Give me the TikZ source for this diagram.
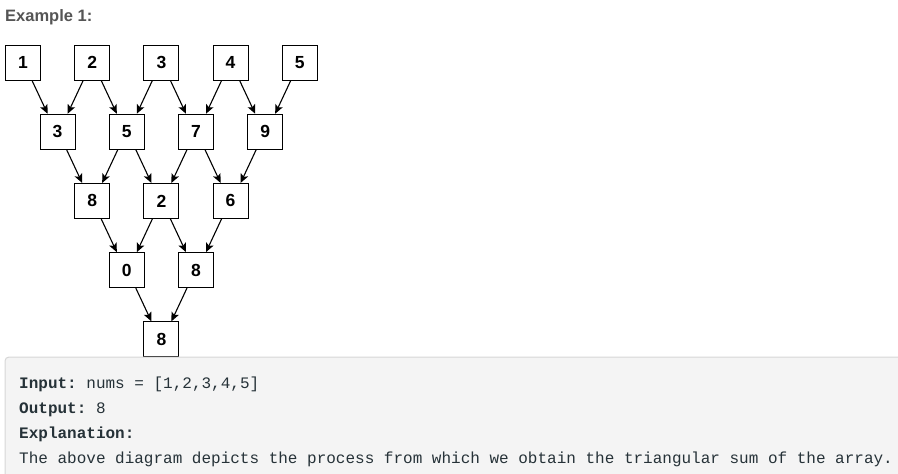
\documentclass[tikz,border=0pt]{standalone}
\usepackage{fontspec}
\setmainfont{Liberation Sans}
\setmonofont{Liberation Mono}
\usetikzlibrary{arrows.meta}
\definecolor{titlegray}{RGB}{85,85,85}
\definecolor{panelbg}{RGB}{244,244,244}
\definecolor{panelline}{RGB}{214,214,214}
\definecolor{codetext}{RGB}{38,50,56}
\tikzset{
  cell/.style={draw,line width=0.9pt,minimum size=35pt,inner sep=0pt,fill=white,
    font=\fontsize{17.5}{19}\selectfont\bfseries},
  sumarrow/.style={-{Stealth[length=9pt,width=8pt,inset=2pt]},line width=1.1pt},
  codeline/.style={anchor=base west,inner sep=0pt,text=codetext,
    font=\fontsize{16}{18}\selectfont\ttfamily}
}
\begin{document}
\begin{tikzpicture}[x=1pt,y=-1pt]
	\useasboundingbox (0,0) rectangle (898,474);
	%title
	\node[anchor=base west,inner sep=0pt,text=titlegray,
	  font=\fontsize{16.5}{18}\selectfont\bfseries] (title) at (5,21) {Example 1:};
	
	%row 1
	\node[cell] (a1) at (23,62.5) {1};
	\node[cell] (a2) at (92.2,62.5) {2};
	\node[cell] (a3) at (161.4,62.5) {3};
	\node[cell] (a4) at (230.6,62.5) {4};
	\node[cell] (a5) at (299.8,62.5) {5};
	%row 2
	\node[cell] (b1) at (57.6,131.7) {3};
	\node[cell] (b2) at (126.8,131.7) {5};
	\node[cell] (b3) at (196,131.7) {7};
	\node[cell] (b4) at (265.2,131.7) {9};
	%row 3
	\node[cell] (c1) at (92.2,200.9) {8};
	\node[cell] (c2) at (161.4,200.9) {2};
	\node[cell] (c3) at (230.6,200.9) {6};
	%row 4
	\node[cell] (d1) at (126.8,270.1) {0};
	\node[cell] (d2) at (196,270.1) {8};
	%row 5
	\node[cell] (e1) at (161.4,339.3) {8};
	
	%arrows row 1 -> row 2
	\draw[sumarrow] ([xshift=9pt]a1.south) -- ([xshift=-10pt]b1.north);
	\draw[sumarrow] ([xshift=-9pt]a2.south) -- ([xshift=10pt]b1.north);
	\draw[sumarrow] ([xshift=9pt]a2.south) -- ([xshift=-10pt]b2.north);
	\draw[sumarrow] ([xshift=-9pt]a3.south) -- ([xshift=10pt]b2.north);
	\draw[sumarrow] ([xshift=9pt]a3.south) -- ([xshift=-10pt]b3.north);
	\draw[sumarrow] ([xshift=-9pt]a4.south) -- ([xshift=10pt]b3.north);
	\draw[sumarrow] ([xshift=9pt]a4.south) -- ([xshift=-10pt]b4.north);
	\draw[sumarrow] ([xshift=-9pt]a5.south) -- ([xshift=10pt]b4.north);
	%arrows row 2 -> row 3
	\draw[sumarrow] ([xshift=9pt]b1.south) -- ([xshift=-10pt]c1.north);
	\draw[sumarrow] ([xshift=-9pt]b2.south) -- ([xshift=10pt]c1.north);
	\draw[sumarrow] ([xshift=9pt]b2.south) -- ([xshift=-10pt]c2.north);
	\draw[sumarrow] ([xshift=-9pt]b3.south) -- ([xshift=10pt]c2.north);
	\draw[sumarrow] ([xshift=9pt]b3.south) -- ([xshift=-10pt]c3.north);
	\draw[sumarrow] ([xshift=-9pt]b4.south) -- ([xshift=10pt]c3.north);
	%arrows row 3 -> row 4
	\draw[sumarrow] ([xshift=9pt]c1.south) -- ([xshift=-10pt]d1.north);
	\draw[sumarrow] ([xshift=-9pt]c2.south) -- ([xshift=10pt]d1.north);
	\draw[sumarrow] ([xshift=9pt]c2.south) -- ([xshift=-10pt]d2.north);
	\draw[sumarrow] ([xshift=-9pt]c3.south) -- ([xshift=10pt]d2.north);
	%arrows row 4 -> row 5
	\draw[sumarrow] ([xshift=9pt]d1.south) -- ([xshift=-10pt]e1.north);
	\draw[sumarrow] ([xshift=-9pt]d2.south) -- ([xshift=10pt]e1.north);
	
	%panel
	\draw[fill=panelbg,draw=panelline,line width=1pt,rounded corners=4pt]
	  (5,490) -- (5,357) -- (910,357) -- (910,490) -- cycle;
	
	%panel text
	\node[codeline] (inp) at (19,388) {\textbf{Input:} nums = [1,2,3,4,5]};
	\node[codeline] (outp) at (19,413) {\textbf{Output:} 8};
	\node[codeline] (expl) at (19,438) {\textbf{Explanation:}};
	\node[codeline] (expltext) at (19,463) {The above diagram depicts the process from which we obtain the triangular sum of the array.};
\end{tikzpicture}
\end{document}
